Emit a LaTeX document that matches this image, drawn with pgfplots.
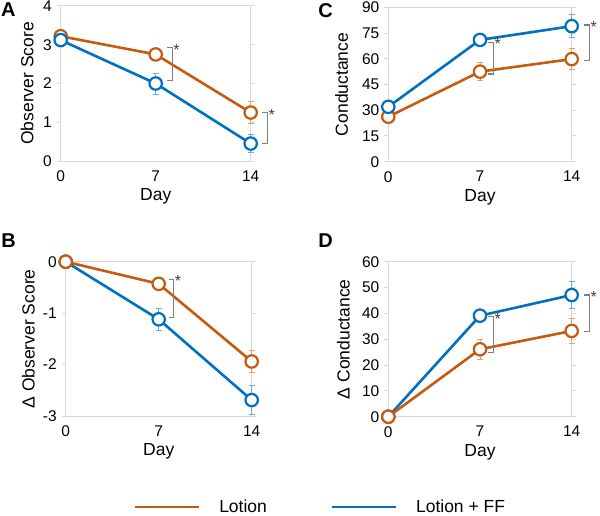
\documentclass[border=0pt]{standalone}
\usepackage{pgfplots}
\pgfplotsset{compat=1.18}
\usepackage{fontspec}
\setmainfont{Liberation Sans}

\definecolor{lotion}{HTML}{C55A11}
\definecolor{lotionff}{HTML}{0070C0}
\definecolor{lotionerr}{HTML}{E8A070}
\definecolor{lotionfferr}{HTML}{6AAEE0}
\definecolor{framegray}{HTML}{D9D9D9}
\definecolor{siggray}{HTML}{7F7F7F}
\definecolor{stargray}{HTML}{404040}

\pgfplotsset{
  panel/.style={
    scale only axis, anchor=south west, clip=false,
    xmin=0, xmax=14, xtick={0,7,14},
    axis line style={draw=framegray, line width=1pt},
    tick align=outside, major tick length=4pt,
    xtick style={draw=none},
    ytick style={draw=framegray, line width=1pt},
    ticklabel style={font=\fontsize{15.5}{18}\selectfont},
    xticklabel style={yshift=-2pt},
    yticklabel style={xshift=-1.5pt},
    /pgf/number format/assume math mode=true,
    label style={font=\fontsize{17.5}{20}\selectfont},
    xlabel=Day,
    xlabel style={at={([yshift=-35.5pt]axis description cs:0.5,0)}, anchor=center},
  },
  lot/.style={
    color=lotion, line width=2.6pt, mark=*, mark size=6.2pt,
    mark options={fill=white, draw=lotion, line width=2.2pt},
    error bars/y dir=both, error bars/y explicit,
    error bars/error bar style={color=lotionerr, line width=0.9pt},
    error bars/error mark options={rotate=90, mark size=3pt, color=lotionerr, line width=0.9pt},
  },
  lff/.style={
    color=lotionff, line width=2.6pt, mark=*, mark size=6.2pt,
    mark options={fill=white, draw=lotionff, line width=2.2pt},
    error bars/y dir=both, error bars/y explicit,
    error bars/error bar style={color=lotionfferr, line width=0.9pt},
    error bars/error mark options={rotate=90, mark size=3pt, color=lotionfferr, line width=0.9pt},
  },
}

% significance bracket: day, upper value, lower value, horizontal offset
\newcommand{\sigbracket}[4]{%
  \draw[siggray, line width=1.1pt]
    ([xshift=#4-5pt]axis cs:#1,#2) -- ([xshift=#4]axis cs:#1,#2)
    -- ([xshift=#4]axis cs:#1,#3) -- ([xshift=#4-5pt]axis cs:#1,#3);
  \node[stargray, anchor=west, inner sep=0pt, font=\fontsize{16}{18}\selectfont]
    at ([xshift=#4+1pt, yshift=-2pt]axis cs:#1,#2) {*};
}

\begin{document}
\begin{tikzpicture}
\useasboundingbox (0,0) rectangle (600pt,515pt);

% ---------------- A: observer score ----------------
\begin{axis}[panel, at={(60.7pt,354pt)}, width=190pt, height=155pt,
  ymin=0, ymax=4, ytick={0,1,2,3,4},
  ylabel={Observer Score},
  ylabel style={at={([xshift=-33.7pt]axis description cs:0,0.5)}, anchor=center}]
\addplot[lot] table[x=d, y=v, y error=e] {
d v e
0 3.22 0.06
7 2.75 0.10
14 1.25 0.28
};
\addplot[lff] table[x=d, y=v, y error=e] {
d v e
0 3.12 0.14
7 2.00 0.27
14 0.45 0.24
};
\sigbracket{7}{2.92}{2.07}{16.6pt}
\sigbracket{14}{1.25}{0.45}{16.7pt}
\end{axis}

% ---------------- C: conductance ----------------
\begin{axis}[panel, at={(388.3pt,353.3pt)}, width=183.4pt, height=154.4pt,
  ymin=0, ymax=90, ytick={0,15,30,45,60,75,90},
  ylabel={Conductance},
  ylabel style={at={([xshift=-46.6pt]axis description cs:0,0.5)}, anchor=center}]
\addplot[lot] table[x=d, y=v, y error=e] {
d v e
0 26.2 2.0
7 52.5 5.3
14 59.8 6.3
};
\addplot[lff] table[x=d, y=v, y error=e] {
d v e
0 32.0 2.0
7 71.0 2.0
14 79.0 6.7
};
\sigbracket{7}{69.6}{51.1}{13.3pt}
\sigbracket{14}{79.7}{58.9}{17.7pt}
\end{axis}

% ---------------- B: change in observer score ----------------
\begin{axis}[panel, at={(65.7pt,99pt)}, width=186pt, height=154.3pt,
  ymin=-3, ymax=0, ytick={-3,-2,-1,0},
  ylabel={Δ Observer Score},
  ylabel style={at={([xshift=-37.4pt]axis description cs:0,0.5)}, anchor=center},
  legend columns=2,
  legend style={draw=none, fill=none, inner sep=0pt,
    at={(axis description cs:0.367,-0.589)}, anchor=west,
    nodes={inner sep=0pt, font=\fontsize{17.5}{20}\selectfont},
    /tikz/every odd column/.append style={column sep=19pt},
    /tikz/every even column/.append style={column sep=64pt}},
  legend image code/.code={\draw[#1, line width=2.6pt] (0pt,0pt) -- (63.5pt,0pt);}]
\addplot[lff, forget plot] table[x=d, y=v, y error=e] {
d v e
0 0 0.03
7 -1.12 0.22
14 -2.69 0.28
};
\addplot[lot, forget plot] table[x=d, y=v, y error=e] {
d v e
0 0 0.03
7 -0.43 0.08
14 -1.94 0.22
};
\addlegendimage{lotion}
\addlegendentry{Lotion}
\addlegendimage{lotionff}
\addlegendentry{Lotion + FF}
\sigbracket{7}{-0.34}{-1.09}{15pt}
\end{axis}

% ---------------- D: change in conductance ----------------
\begin{axis}[panel, at={(388.3pt,98.3pt)}, width=183.4pt, height=155pt,
  ymin=0, ymax=60, ytick={0,10,20,30,40,50,60},
  ylabel={Δ Conductance},
  ylabel style={at={([xshift=-45pt]axis description cs:0,0.5)}, anchor=center}]
\addplot[lff] table[x=d, y=v, y error=e] {
d v e
0 0 0.5
7 39.1 1.5
14 47.1 5.3
};
\addplot[lot] table[x=d, y=v, y error=e] {
d v e
0 0 0.5
7 26.1 3.9
14 33.2 5.0
};
\sigbracket{7}{38.7}{24.9}{13.3pt}
\sigbracket{14}{47.1}{32.9}{17.7pt}
\end{axis}

% panel letters
\node[font=\bfseries\fontsize{20}{24}\selectfont] at (8.3pt,505pt) {A};
\node[font=\bfseries\fontsize{20}{24}\selectfont] at (325.5pt,504pt) {C};
\node[font=\bfseries\fontsize{20}{24}\selectfont] at (8.5pt,274pt) {B};
\node[font=\bfseries\fontsize{20}{24}\selectfont] at (325.5pt,274pt) {D};
\end{tikzpicture}
\end{document}
